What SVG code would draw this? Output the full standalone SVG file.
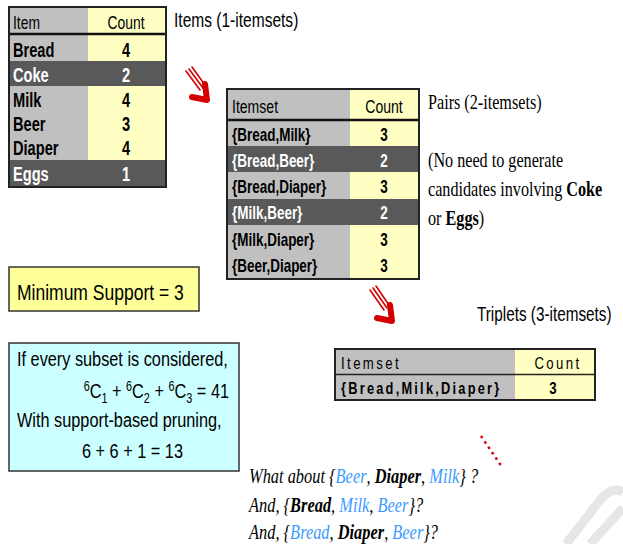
<svg xmlns="http://www.w3.org/2000/svg" width="623" height="544" viewBox="0 0 623 544">
<style>
.nar{font-family:"Liberation Sans",Arial,sans-serif}
.b{font-weight:bold}
.w{fill:#fff}
.lg{fill:#c0c0c0}
.yl{fill:#ffffc4}
.dk{fill:#595959}
.bd{fill:none;stroke:#222;stroke-width:2}
.ser{font-family:"Liberation Serif","Times New Roman",serif}
.blue{fill:#3d9bff}
.arrow{fill:none;stroke:#d40000;stroke-linecap:round;stroke-linejoin:round}
.m{text-anchor:middle}
</style>
<rect width="623" height="544" fill="#fff"/>

<!-- watermark fragment -->
<g id="watermark" fill="none" stroke="#e6e6e6" stroke-width="9">
<path d="M566,544 L600,500 Q612,486 623,492"/>
<path d="M590,544 L623,508"/>
</g>

<!-- Table 1 -->
<g id="table1" class="nar">
<rect x="9" y="7" width="79" height="180" class="lg"/>
<rect x="88" y="7" width="78" height="180" class="yl"/>
<rect x="9" y="61" width="157" height="25" class="dk"/>
<rect x="9" y="160" width="157" height="27" class="dk"/>
<line x1="9" y1="34" x2="166" y2="34" stroke="#111" stroke-width="2.5"/>
<rect x="9" y="7" width="157" height="180" class="bd"/>
<g font-size="18">
<text transform="translate(13,29) scale(.77,1)">Item</text>
<text transform="translate(126,29) scale(.77,1)" class="m">Count</text>
</g>
<g font-size="19.5" class="b">
<text transform="translate(13,57) scale(.75,1)">Bread</text><text transform="translate(126,57) scale(.75,1)" class="m">4</text>
<text transform="translate(13,82) scale(.75,1)" class="w">Coke</text><text transform="translate(126,82) scale(.75,1)" class="m w">2</text>
<text transform="translate(13,107) scale(.75,1)">Milk</text><text transform="translate(126,107) scale(.75,1)" class="m">4</text>
<text transform="translate(13,131) scale(.75,1)">Beer</text><text transform="translate(126,131) scale(.75,1)" class="m">3</text>
<text transform="translate(13,155) scale(.75,1)">Diaper</text><text transform="translate(126,155) scale(.75,1)" class="m">4</text>
<text transform="translate(13,181) scale(.75,1)" class="w">Eggs</text><text transform="translate(126,181) scale(.75,1)" class="m w">1</text>
</g>
</g>
<text id="label1" transform="translate(174,27) scale(.74,1)" class="nar" font-size="21">Items (1-itemsets)</text>

<!-- Table 2 -->
<g id="table2" class="nar">
<rect x="227" y="89" width="123" height="190" class="lg"/>
<rect x="350" y="89" width="69" height="190" class="yl"/>
<rect x="227" y="146" width="192" height="26" class="dk"/>
<rect x="227" y="199" width="192" height="26" class="dk"/>
<line x1="227" y1="120" x2="419" y2="120" stroke="#111" stroke-width="2.5"/>
<rect x="227" y="89" width="192" height="190" class="bd"/>
<g font-size="18.5">
<text transform="translate(232,113) scale(.76,1)">Itemset</text>
<text transform="translate(384,113) scale(.76,1)" class="m">Count</text>
</g>
<g font-size="17.5" class="b">
<text transform="translate(232,141) scale(.77,1)">{Bread,Milk}</text><text transform="translate(384,141) scale(.77,1)" class="m">3</text>
<text transform="translate(232,167) scale(.77,1)" class="w">{Bread,Beer}</text><text transform="translate(384,167) scale(.77,1)" class="m w">2</text>
<text transform="translate(232,193) scale(.77,1)">{Bread,Diaper}</text><text transform="translate(384,193) scale(.77,1)" class="m">3</text>
<text transform="translate(232,219) scale(.77,1)" class="w">{Milk,Beer}</text><text transform="translate(384,219) scale(.77,1)" class="m w">2</text>
<text transform="translate(232,246) scale(.77,1)">{Milk,Diaper}</text><text transform="translate(384,246) scale(.77,1)" class="m">3</text>
<text transform="translate(232,272) scale(.77,1)">{Beer,Diaper}</text><text transform="translate(384,272) scale(.77,1)" class="m">3</text>
</g>
</g>
<g id="label2" class="ser" font-size="21">
<text transform="translate(428,109) scale(.77,1)">Pairs (2-itemsets)</text>
<text transform="translate(428,167) scale(.77,1)">(No need to generate</text>
<text transform="translate(428,196) scale(.77,1)">candidates involving <tspan font-weight="bold">Coke</tspan></text>
<text transform="translate(428,225) scale(.77,1)">or <tspan font-weight="bold">Eggs</tspan>)</text>
</g>

<!-- Min support -->
<g id="minsupport">
<rect x="9" y="267" width="190" height="44" fill="#ffff99" stroke="#333" stroke-width="1.5"/>
<text transform="translate(17,300) scale(.785,1)" class="nar" font-size="22.3">Minimum Support = 3</text>
</g>

<!-- Counting box -->
<g id="counting" class="nar" font-size="21">
<rect x="9" y="343" width="230" height="128" fill="#ccffff" stroke="#333" stroke-width="1.5"/>
<text transform="translate(17,366) scale(.776,1)">If every subset is considered,</text>
<text transform="translate(229,398) scale(.776,1)" text-anchor="end"><tspan font-size="14" dy="-7">6</tspan><tspan dy="7">C</tspan><tspan font-size="14" dy="5">1</tspan><tspan dy="-5"> + </tspan><tspan font-size="14" dy="-7">6</tspan><tspan dy="7">C</tspan><tspan font-size="14" dy="5">2</tspan><tspan dy="-5"> + </tspan><tspan font-size="14" dy="-7">6</tspan><tspan dy="7">C</tspan><tspan font-size="14" dy="5">3</tspan><tspan dy="-5"> = 41</tspan></text>
<text transform="translate(17,427) scale(.776,1)">With support-based pruning,</text>
<text transform="translate(82,458) scale(.776,1)">6 + 6 + 1 = 13</text>
</g>

<!-- Table 3 -->
<g id="table3" class="nar">
<rect x="335" y="349" width="180" height="51" class="lg"/>
<rect x="515" y="349" width="80" height="51" class="yl"/>
<line x1="335" y1="374.5" x2="595" y2="374.5" stroke="#222" stroke-width="1.5"/>
<rect x="335" y="349" width="260" height="51" class="bd"/>
<text transform="translate(341,369) scale(.8,1)" font-size="16.5" letter-spacing="3">Itemset</text>
<text transform="translate(558,369) scale(.8,1)" font-size="16.5" letter-spacing="3" class="m">Count</text>
<text transform="translate(341,394) scale(.8,1)" font-size="16" letter-spacing="2.8" class="b">{Bread,Milk,Diaper}</text>
<text transform="translate(553,394) scale(.8,1)" font-size="16.5" class="b m">3</text>
</g>
<text id="label3" transform="translate(477,321) scale(.785,1)" class="nar" font-size="19.5">Triplets (3-itemsets)</text>

<!-- Connectors -->
<g id="connectors">
<g class="arrow">
<path d="M186,71 L200,90 M189,69 L203,88 M192,67 L205,85" stroke-width="1.6"/>
<path d="M192,97 L207,100 L205,84" stroke-width="6"/>
<path d="M370,290 L384,310 M373,288 L387,308 M376,286 L389,305" stroke-width="1.6"/>
<path d="M377,318 L392,321 L390,305" stroke-width="6"/>
</g>
<line x1="481" y1="436" x2="502" y2="467" stroke="#d40000" stroke-width="2.5" stroke-dasharray="2.5,4"/>
</g>

<!-- Questions -->
<g id="questions" class="ser" font-size="21" font-style="italic">
<text transform="translate(249,483) scale(.78,1)">What about {<tspan class="blue">Beer</tspan>, <tspan font-weight="bold">Diaper</tspan>, <tspan class="blue">Milk</tspan>} ?</text>
<text transform="translate(249,512) scale(.78,1)">And, {<tspan font-weight="bold">Bread</tspan>, <tspan class="blue">Milk</tspan>, <tspan class="blue">Beer</tspan>}?</text>
<text transform="translate(249,539) scale(.78,1)">And, {<tspan class="blue">Bread</tspan>, <tspan font-weight="bold">Diaper</tspan>, <tspan class="blue">Beer</tspan>}?</text>
</g>
</svg>
